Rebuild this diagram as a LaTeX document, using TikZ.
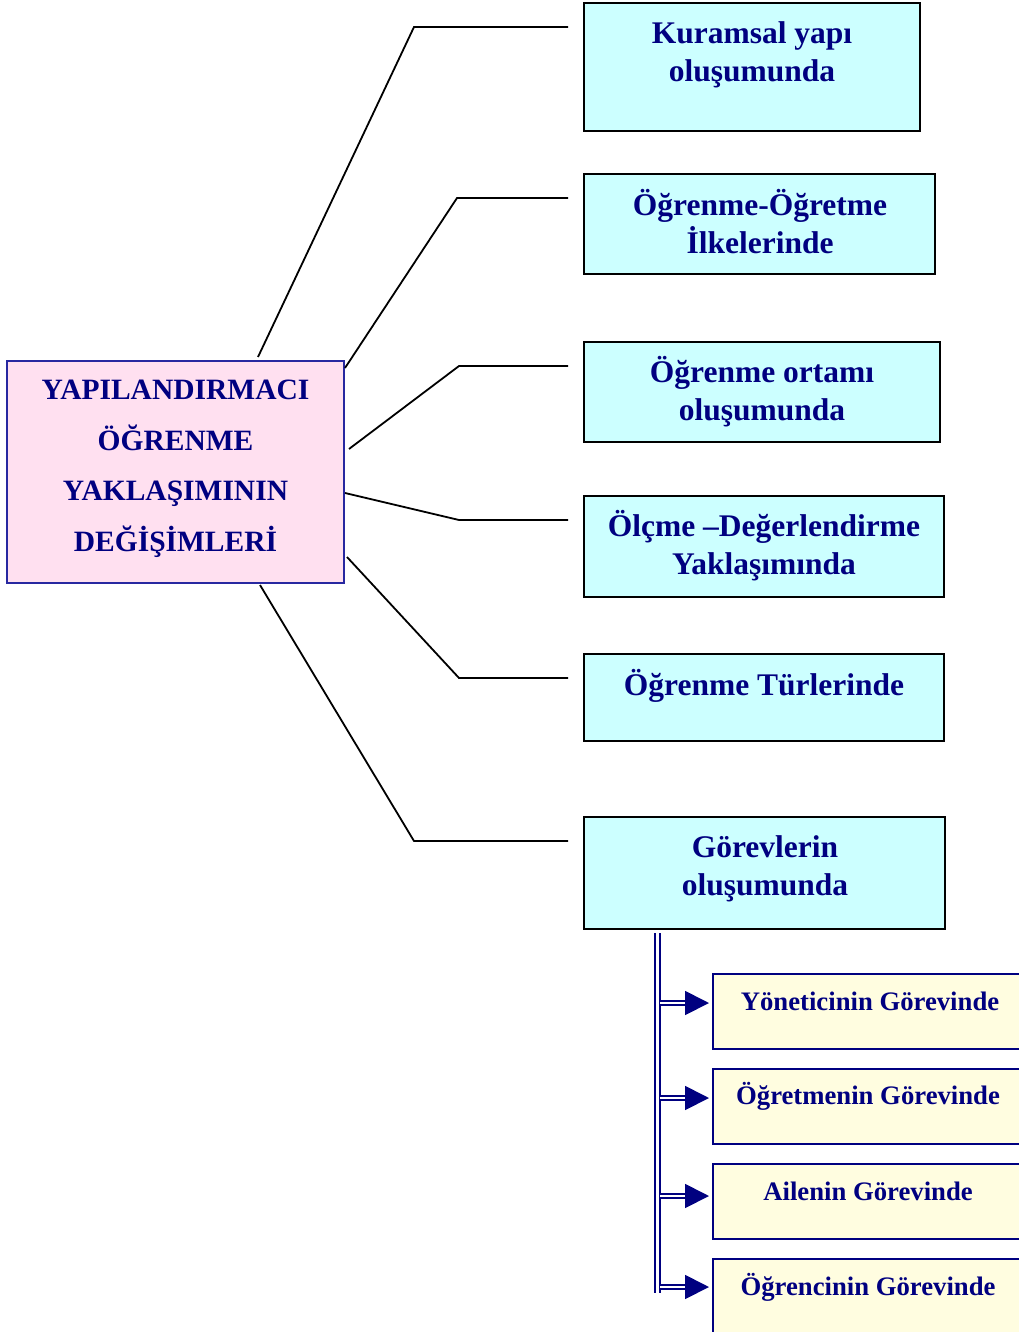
\documentclass[tikz,border=0pt]{standalone}
\usepackage{fontspec}
\setmainfont{Liberation Serif}
\usetikzlibrary{arrows.meta,calc}
\definecolor{navy}{RGB}{0,0,128}
\definecolor{boxcyan}{RGB}{204,255,255}
\definecolor{boxpink}{RGB}{255,224,240}
\definecolor{boxyellow}{RGB}{255,253,224}
\definecolor{pinkedge}{RGB}{40,40,160}
\begin{document}
\begin{tikzpicture}[x=1pt,y=-1pt,
  topicbox/.style={draw=black,line width=1.6pt,fill=boxcyan,inner sep=0pt},
  rootbox/.style={draw=pinkedge,line width=1.6pt,fill=boxpink,inner sep=0pt},
  rolebox/.style={draw=navy,line width=1.6pt,fill=boxyellow,inner sep=0pt},
  topictext/.style={text=navy,font=\fontsize{31.5}{38}\selectfont\bfseries,align=center,inner sep=0pt},
  roottext/.style={text=navy,font=\fontsize{29.5}{50.5}\selectfont\bfseries,align=center,inner sep=0pt},
  roletext/.style={text=navy,font=\fontsize{26.7}{30}\selectfont\bfseries,align=center,inner sep=0pt},
  link/.style={draw=black,line width=1.8pt},
  trunk/.style={draw=navy,line width=2.4pt,double=white,double distance=2.2pt},
  feed/.style={draw=navy,line width=1.8pt,double=white,double distance=2pt,
    -{Triangle[length=24pt,width=24pt,fill=navy]},shorten >=3pt}
]
\useasboundingbox (0,0) rectangle (1019,1332);

% root box
\node[rootbox,minimum width=337pt,minimum height=222pt] (root) at (175.5,472) {};
\node[roottext] (roott) at (175.5,469) {YAPILANDIRMACI\\ÖĞRENME\\YAKLAŞIMININ\\DEĞİŞİMLERİ};

% topic boxes
\node[topicbox,minimum width=336pt,minimum height=128pt] (b1) at (752,67) {};
\node[topictext] (b1t) at (752,55) {Kuramsal yapı\\oluşumunda};
\node[topicbox,minimum width=351pt,minimum height=100pt] (b2) at (759.5,224) {};
\node[topictext] (b2t) at (760,222) {Öğrenme-Öğretme\\İlkelerinde};
\node[topicbox,minimum width=356pt,minimum height=100pt] (b3) at (762,392) {};
\node[topictext] (b3t) at (762,392) {Öğrenme ortamı\\oluşumunda};
\node[topicbox,minimum width=360pt,minimum height=101pt] (b4) at (764,546.5) {};
\node[topictext] (b4t) at (764,546) {Ölçme –Değerlendirme\\Yaklaşımında};
\node[topicbox,minimum width=360pt,minimum height=87pt] (b5) at (764,697.5) {};
\node[topictext] (b5t) at (764,686) {Öğrenme Türlerinde};
\node[topicbox,minimum width=361pt,minimum height=112pt] (b6) at (764.5,873) {};
\node[topictext] (b6t) at (765,869) {Görevlerin\\oluşumunda};

% bend points and loose ends of the links
\coordinate (s1) at (258,357);  \coordinate (k1) at (414,27);  \coordinate (e1) at (568,27);
\coordinate (s2) at (345,368);  \coordinate (k2) at (457,198); \coordinate (e2) at (568,198);
\coordinate (s3) at (349,449);  \coordinate (k3) at (459,366); \coordinate (e3) at (568,366);
\coordinate (s4) at (345,493);  \coordinate (k4) at (459,520); \coordinate (e4) at (568,520);
\coordinate (s5) at (347,557);  \coordinate (k5) at (459,678); \coordinate (e5) at (568,678);
\coordinate (s6) at (260,585);  \coordinate (k6) at (414,841); \coordinate (e6) at (568,841);
\foreach \i in {1,...,6}{\draw[link] (s\i) -- (k\i) -- (e\i);}

% role boxes (running off the right edge)
\node[rolebox,minimum width=330pt,minimum height=75pt,anchor=north west] (r1) at (712,973) {};
\node[roletext] (r1t) at (870,1001) {Yöneticinin Görevinde};
\node[rolebox,minimum width=330pt,minimum height=75pt,anchor=north west] (r2) at (712,1068) {};
\node[roletext] (r2t) at (868,1096) {Öğretmenin Görevinde};
\node[rolebox,minimum width=330pt,minimum height=75pt,anchor=north west] (r3) at (712,1163) {};
\node[roletext] (r3t) at (868,1191) {Ailenin Görevinde};
\node[rolebox,minimum width=330pt,minimum height=90pt,anchor=north west] (r4) at (712,1258) {};
\node[roletext] (r4t) at (868,1287) {Öğrencinin Görevinde};

% double trunk under the last topic box with arrows to the roles
\coordinate (top) at (657.5,933);
\coordinate (bot) at (657.5,1293);
\draw[trunk] (top) -- (bot);
\coordinate (t1) at (660,1003);
\coordinate (t2) at (660,1098);
\coordinate (t3) at (660,1196);
\coordinate (t4) at (660,1287);
\draw[feed] (t1) -- (r1.west |- t1);
\draw[feed] (t2) -- (r2.west |- t2);
\draw[feed] (t3) -- (r3.west |- t3);
\draw[feed] (t4) -- (r4.west |- t4);
\end{tikzpicture}
\end{document}
